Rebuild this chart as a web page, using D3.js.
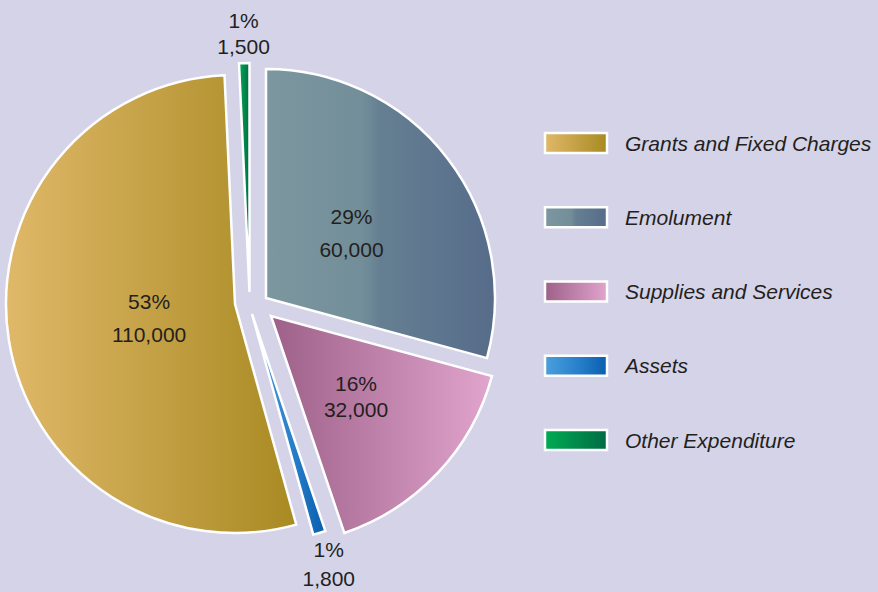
<!DOCTYPE html>
<html lang="en">
<head>
<meta charset="UTF-8">
<script src="https://d3js.org/d3.v7.min.js"></script>
<title>Expenditure</title>
<style>
  body { margin: 0; background: #d5d3e8; }
  text { font-family: "Liberation Sans", Arial, sans-serif; fill: #231f20; }
</style>
</head>
<body>
<div id="chart"></div>
<script>
var categories = ["Grants and Fixed Charges", "Emolument", "Supplies and Services", "Assets", "Other Expenditure"];
var amounts = [110000, 60000, 32000, 1800, 1500];
var percents = [53, 29, 16, 1, 1];
// clockwise order of the slices starting at 12 o'clock
var sliceOrder = ["Emolument", "Supplies and Services", "Assets", "Grants and Fixed Charges", "Other Expenditure"];

// look
var gradStops = [
    [["0", "#e0b869"], ["1", "#a88a22"]],
    [["0", "#7c979f"], ["0.42", "#728e99"], ["0.5", "#657f92"], ["1", "#566c8a"]],
    [["0", "#9d6089"], ["1", "#e1a4cc"]],
    [["0", "#4aa0dc"], ["0.5", "#2a82cc"], ["1", "#0a5eae"]],
    [["0", "#00ab53"], ["1", "#006b45"]]
];
var explode = [[-15, 0], [16, -6], [21, 12], [2, 10], [-0.5, -12]];
var labelDist = [0.38, 0.47, 0.51, 1.14, 1.13];
var lineGap = [33, 33, 26, 29, 26];

var width = 878, height = 592;
var cx = 250, cy = 304, r = 229;

var data = categories.map(function (c, i) {
    return { name: c, value: amounts[i], pct: percents[i], i: i };
});

var svg = d3.select("#chart").append("svg")
    .attr("width", width)
    .attr("height", height);

svg.append("rect").attr("width", width).attr("height", height).attr("fill", "#d5d3e8");

var defs = svg.append("defs");
data.forEach(function (d) {
    var g = defs.append("linearGradient").attr("id", "grad" + d.i)
        .attr("x1", 0).attr("x2", 1).attr("y1", 0).attr("y2", 0);
    gradStops[d.i].forEach(function (s) {
        g.append("stop").attr("offset", s[0]).attr("stop-color", s[1]);
    });
});

var pie = d3.pie()
    .sort(function (a, b) { return sliceOrder.indexOf(a.name) - sliceOrder.indexOf(b.name); })
    .value(function (d) { return d.value; });

var arc = d3.arc().innerRadius(0).outerRadius(r);
var arcs = pie(data);

var chart = svg.append("g").attr("transform", "translate(" + cx + "," + cy + ")");

var slices = chart.selectAll("g.slice")
    .data(arcs)
    .enter()
    .append("g")
    .attr("class", "slice")
    .attr("transform", function (d) {
        var o = explode[d.data.i];
        return "translate(" + o[0] + "," + o[1] + ")";
    });

slices.append("path")
    .attr("d", arc)
    .attr("fill", function (d) { return "url(#grad" + d.data.i + ")"; })
    .attr("stroke", "#fff")
    .attr("stroke-width", 2.5)
    .attr("stroke-linejoin", "miter");

// labels
var fmt = d3.format(",");
slices.each(function (d) {
    var a = (d.startAngle + d.endAngle) / 2;
    var k = labelDist[d.data.i] * r;
    var x = Math.sin(a) * k, y = -Math.cos(a) * k;
    var gap = lineGap[d.data.i];
    var g = d3.select(this);
    g.append("text")
        .attr("x", x).attr("y", y - gap / 2 + 7.5)
        .attr("text-anchor", "middle")
        .style("font-size", "21px")
        .text(d.data.pct + "%");
    g.append("text")
        .attr("x", x).attr("y", y + gap / 2 + 7.5)
        .attr("text-anchor", "middle")
        .style("font-size", "21px")
        .text(fmt(d.data.value));
});

// legend
var ly = d3.scalePoint().domain(categories).range([143, 440]);
var legend = svg.selectAll("g.legend")
    .data(data)
    .enter()
    .append("g")
    .attr("class", "legend")
    .attr("transform", function (d) { return "translate(545," + ly(d.name) + ")"; });

legend.append("rect")
    .attr("x", 0).attr("y", -10)
    .attr("width", 62).attr("height", 20)
    .attr("fill", function (d) { return "url(#grad" + d.i + ")"; })
    .attr("stroke", "#fff")
    .attr("stroke-width", 2.5);

legend.append("text")
    .attr("x", 80).attr("y", 7.5)
    .style("font-size", "21px")
    .style("font-style", "italic")
    .text(function (d) { return d.name; });
</script>
</body>
</html>
